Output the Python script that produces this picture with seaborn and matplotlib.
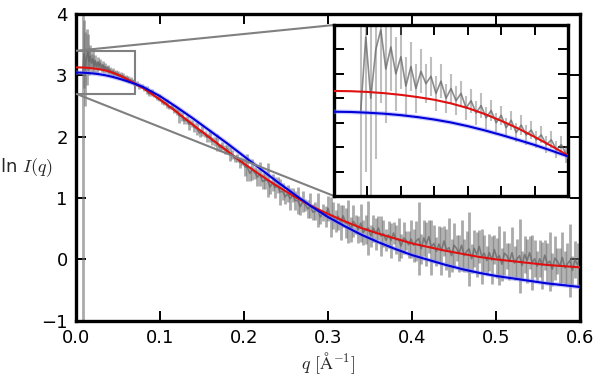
import numpy as np
import matplotlib
matplotlib.use('Agg')
import matplotlib.pyplot as plt
import seaborn as sns
from mpl_toolkits.axes_grid1.inset_locator import mark_inset

sns.set_theme(style='white')
plt.rcParams['font.family'] = ['DejaVu Sans']
plt.rcParams['mathtext.fontset'] = 'cm'

# ---- measured data: low-q part ----
q_low = np.round(np.arange(0.008, 0.0696, 0.0015), 4)
lnI_low = [3.05, 3.35, 3.10, 3.30, 3.38, 3.22, 3.31, 3.20, 3.27, 3.15,
           3.23, 3.14, 3.21, 3.16, 3.19, 3.12, 3.17, 3.10, 3.14, 3.09,
           3.12, 3.06, 3.09, 3.04, 3.07, 3.02, 3.05, 3.00, 3.03, 2.98,
           3.01, 2.96, 2.99, 2.95, 2.97, 2.93, 2.95, 2.91, 2.93, 2.89,
           2.91, 2.87]
err_low = [4.2, 0.55, 0.60, 0.45, 0.30, 0.22, 0.18, 0.15, 0.13, 0.12,
           0.10, 0.10, 0.09, 0.08, 0.08, 0.07, 0.07, 0.06, 0.06, 0.06,
           0.05, 0.05, 0.05, 0.05, 0.05, 0.045, 0.045, 0.04, 0.04, 0.04,
           0.04, 0.04, 0.04, 0.04, 0.035, 0.035, 0.035, 0.035, 0.035, 0.035,
           0.035, 0.035]

# ---- measured data: high-q part ----
q_high = np.round(np.arange(0.072, 0.6001, 0.003), 3)
lnI_high = [2.86, 2.82, 2.83, 2.78, 2.76, 2.70, 2.72, 2.68, 2.63, 2.64,
            2.57, 2.56, 2.54, 2.48, 2.49, 2.44, 2.42, 2.34, 2.33, 2.26,
            2.27, 2.20, 2.22, 2.15, 2.13, 2.06, 2.09, 2.05, 1.99, 2.01,
            1.93, 1.92, 1.90, 1.82, 1.85, 1.79, 1.80, 1.72, 1.71, 1.64,
            1.65, 1.58, 1.60, 1.51, 1.50, 1.40, 1.47, 1.41, 1.34, 1.39,
            1.27, 1.29, 1.29, 1.18, 1.25, 1.17, 1.21, 1.10, 1.11, 1.02,
            1.07, 0.99, 1.05, 0.96, 0.96, 0.86, 0.94, 0.89, 0.82, 0.88,
            0.77, 0.79, 0.80, 0.69, 0.77, 0.70, 0.83, 0.69, 0.72, 0.62,
            0.70, 0.60, 0.71, 0.59, 0.61, 0.49, 0.62, 0.57, 0.49, 0.59,
            0.44, 0.49, 0.51, 0.38, 0.51, 0.42, 0.51, 0.38, 0.42, 0.31,
            0.40, 0.31, 0.43, 0.32, 0.33, 0.22, 0.35, 0.31, 0.24, 0.33,
            0.23, 0.30, 0.34, 0.17, 0.35, 0.25, 0.37, 0.20, 0.26, 0.13,
            0.25, 0.14, 0.30, 0.16, 0.19, 0.06, 0.23, 0.18, 0.10, 0.23,
            0.06, 0.13, 0.17, 0.01, 0.18, 0.08, 0.21, 0.05, 0.10, -0.02,
            0.11, -0.01, 0.16, 0.02, 0.06, -0.08, 0.10, 0.06, -0.03, 0.11,
            -0.06, 0.01, 0.06, -0.10, 0.08, -0.02, 0.11, -0.05, 0.01, -0.11,
            0.01, -0.10, 0.07, -0.07, -0.03, -0.16, 0.02, -0.03, -0.11, 0.03,
            -0.14, -0.07, -0.02, -0.18, 0.00, -0.09, 0.04]
err_high = [0.04, 0.05, 0.03, 0.04, 0.06, 0.04, 0.05, 0.03, 0.04, 0.06,
            0.04, 0.04, 0.08, 0.03, 0.04, 0.05, 0.06, 0.11, 0.07, 0.06,
            0.07, 0.09, 0.06, 0.08, 0.11, 0.06, 0.08, 0.05, 0.07, 0.10,
            0.06, 0.08, 0.14, 0.06, 0.07, 0.08, 0.06, 0.11, 0.07, 0.06,
            0.07, 0.09, 0.06, 0.15, 0.22, 0.13, 0.17, 0.10, 0.14, 0.20,
            0.13, 0.15, 0.28, 0.11, 0.14, 0.17, 0.13, 0.21, 0.14, 0.11,
            0.14, 0.18, 0.11, 0.15, 0.22, 0.13, 0.17, 0.10, 0.14, 0.20,
            0.13, 0.15, 0.28, 0.11, 0.14, 0.17, 0.20, 0.33, 0.22, 0.18,
            0.22, 0.29, 0.18, 0.24, 0.35, 0.20, 0.26, 0.15, 0.22, 0.31,
            0.20, 0.24, 0.44, 0.18, 0.22, 0.26, 0.20, 0.33, 0.22, 0.18,
            0.22, 0.29, 0.18, 0.24, 0.35, 0.20, 0.26, 0.15, 0.22, 0.31,
            0.27, 0.33, 0.60, 0.24, 0.30, 0.36, 0.27, 0.45, 0.30, 0.24,
            0.30, 0.39, 0.24, 0.33, 0.48, 0.27, 0.36, 0.21, 0.30, 0.42,
            0.27, 0.33, 0.60, 0.24, 0.30, 0.36, 0.27, 0.45, 0.30, 0.24,
            0.30, 0.39, 0.24, 0.33, 0.48, 0.27, 0.36, 0.21, 0.30, 0.42,
            0.27, 0.33, 0.60, 0.24, 0.30, 0.36, 0.27, 0.45, 0.30, 0.24,
            0.30, 0.39, 0.24, 0.33, 0.48, 0.27, 0.36, 0.21, 0.30, 0.42,
            0.27, 0.33, 0.60, 0.24, 0.30, 0.36, 0.27]

# ---- model fits ----
q_fit = [0.000, 0.005, 0.010, 0.015, 0.020, 0.025, 0.030, 0.035, 0.040,
         0.045, 0.050, 0.055, 0.060, 0.065, 0.070, 0.075, 0.080,
         0.10, 0.12, 0.14, 0.16, 0.18, 0.20, 0.22, 0.24, 0.26, 0.28, 0.30,
         0.32, 0.34, 0.36, 0.38, 0.40, 0.42, 0.44, 0.46, 0.48, 0.50, 0.52,
         0.54, 0.56, 0.58, 0.60]
red_fit = [3.130, 3.129, 3.126, 3.121, 3.114, 3.105, 3.094, 3.079, 3.060,
           3.036, 3.008, 2.977, 2.942, 2.905, 2.866, 2.828, 2.790,
           2.605, 2.40, 2.185, 1.975, 1.765, 1.56, 1.37, 1.19, 1.025, 0.87,
           0.74, 0.62, 0.51, 0.42, 0.34, 0.26, 0.20, 0.14, 0.09, 0.04, 0.00,
           -0.03, -0.06, -0.09, -0.11, -0.13]
blue_fit = [3.045, 3.044, 3.041, 3.037, 3.031, 3.023, 3.013, 3.001, 2.986,
            2.969, 2.950, 2.930, 2.909, 2.886, 2.862, 2.836, 2.809,
            2.66, 2.48, 2.29, 2.09, 1.89, 1.68, 1.47, 1.26, 1.06, 0.865,
            0.69, 0.54, 0.40, 0.28, 0.17, 0.07, -0.01, -0.09, -0.16, -0.22,
            -0.27, -0.31, -0.35, -0.39, -0.42, -0.45]

q = np.concatenate([q_low, q_high])
lnI = np.array(lnI_low + lnI_high)
err = np.array(err_low + err_high)

fig = plt.figure(figsize=(6, 3.76), dpi=100)
ax = fig.add_axes([0.1267, 0.147, 0.84, 0.8158])
axins = fig.add_axes([0.5567, 0.4787, 0.39, 0.4548])


def draw(a, ew, ealpha):
    a.errorbar(q, lnI, yerr=err, fmt='none', ecolor='0.45', alpha=ealpha,
               elinewidth=ew, zorder=1)
    sns.lineplot(x=q, y=lnI, ax=a, color='0.4', lw=1.2, alpha=0.75,
                 estimator=None, sort=False, legend=False, zorder=2)
    sns.lineplot(x=q_fit, y=blue_fit, ax=a, color='#8c8cff', lw=3.2,
                 alpha=0.45, estimator=None, legend=False, zorder=3)
    sns.lineplot(x=q_fit, y=red_fit, ax=a, color='#e01010', lw=1.5,
                 estimator=None, legend=False, zorder=4)
    sns.lineplot(x=q_fit, y=blue_fit, ax=a, color='#0000d8', lw=1.5,
                 estimator=None, legend=False, zorder=5)


draw(ax, 2.0, 0.6)
draw(axins, 1.5, 0.45)

ax.set_xlim(0, 0.6)
ax.set_ylim(-1, 4)
ax.set_xticks([0.0, 0.1, 0.2, 0.3, 0.4, 0.5, 0.6])
ax.set_xticklabels(['0.0', '0.1', '0.2', '0.3', '0.4', '0.5', '0.6'])
ax.set_yticks([-1, 0, 1, 2, 3, 4])
ax.set_xlabel(r'$q\ [\mathrm{\AA}^{-1}]$', fontsize=13, labelpad=2)
ax.set_ylabel(r'ln $I(q)$', fontsize=13, rotation=0, ha='center', va='center')
ax.yaxis.set_label_coords(-0.098, 0.5)

axins.set_xlim(0, 0.07)
axins.set_ylim(2.7, 3.4)
axins.set_xticks([0.01, 0.02, 0.03, 0.04, 0.05, 0.06])
axins.set_yticks([2.8, 2.9, 3.0, 3.1, 3.2, 3.3])
axins.set_xlabel('')
axins.set_ylabel('')

for a, lab in ((ax, True), (axins, False)):
    a.set_facecolor('white')
    a.tick_params(direction='in', length=7.5, width=1.4, top=True, right=True,
                  bottom=True, left=True, labelsize=13, pad=6, color='black',
                  labelbottom=lab, labelleft=lab, labelcolor='black')
    for s in a.spines.values():
        s.set_linewidth(2.4)
        s.set_color('black')

mark_inset(ax, axins, loc1=2, loc2=3, fc='none', ec='0.5', lw=1.5)

fig.savefig('out.png', dpi=100)
